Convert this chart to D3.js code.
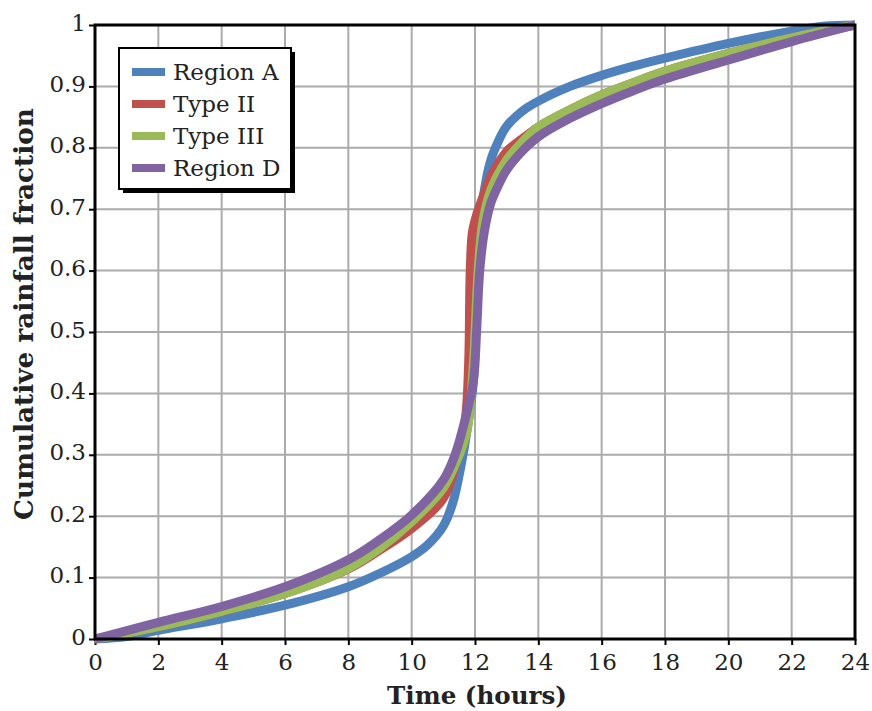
<!DOCTYPE html>
<html>
<head>
<meta charset="utf-8">
<script src="https://cdn.jsdelivr.net/npm/d3@7"></script>
<style>
  html, body { margin: 0; padding: 0; background: #ffffff; }
  svg { display: block; }
</style>
</head>
<body>
<svg id="chart" width="872" height="711"></svg>
<script>
// ---------- data ----------
const xTicks = [0, 2, 4, 6, 8, 10, 12, 14, 16, 18, 20, 22, 24];
const yTicks = [0, 0.1, 0.2, 0.3, 0.4, 0.5, 0.6, 0.7, 0.8, 0.9, 1];
const yTickLabels = ["0", "0.1", "0.2", "0.3", "0.4", "0.5", "0.6", "0.7", "0.8", "0.9", "1"];
const seriesNames = ["Region A", "Type II", "Type III", "Region D"];

const regionA = [
  [0, 0], [1, 0.004], [2, 0.014], [4, 0.033], [6, 0.055], [8, 0.085], [9, 0.107], [10, 0.134],
  [10.5, 0.153], [11, 0.184], [11.3, 0.222], [11.55, 0.28], [11.75, 0.34], [11.95, 0.42],
  [12.05, 0.56], [12.15, 0.66], [12.28, 0.726], [12.5, 0.78], [12.75, 0.812], [13, 0.835],
  [13.5, 0.86], [14, 0.876], [15, 0.9], [16, 0.918], [17, 0.933], [18, 0.946], [20, 0.97],
  [22, 0.99], [23, 0.998], [24, 1]
];
const typeII = [
  [0, 0], [2, 0.02], [4, 0.045], [6, 0.074], [8, 0.114], [9, 0.145], [10, 0.18],
  [11, 0.229], [11.46, 0.30], [11.7, 0.36], [11.8, 0.45], [11.85, 0.60], [11.92, 0.663],
  [12.07, 0.694], [12.25, 0.72], [12.5, 0.753], [13, 0.794], [13.5, 0.815], [14, 0.834],
  [15, 0.862], [16, 0.886], [17, 0.906], [18, 0.925], [20, 0.954], [22, 0.979], [24, 1]
];
const typeIII = [
  [0, 0], [2, 0.02], [4, 0.045], [6, 0.074], [8, 0.115], [9, 0.148], [10, 0.191],
  [11, 0.246], [11.5, 0.30], [11.75, 0.34], [11.95, 0.45], [12.0, 0.50], [12.1, 0.60],
  [12.25, 0.68], [12.5, 0.731], [13, 0.78], [13.5, 0.81], [14, 0.834], [15, 0.862],
  [16, 0.886], [17, 0.906], [18, 0.925], [20, 0.954], [22, 0.979], [24, 1]
];
const regionD = [
  [0, 0], [2, 0.027], [4, 0.053], [6, 0.085], [8, 0.129], [9, 0.162], [10, 0.202],
  [11, 0.259], [11.37, 0.30], [11.7, 0.36], [11.95, 0.42], [12.05, 0.50], [12.15, 0.60],
  [12.3, 0.665], [12.5, 0.71], [12.75, 0.74], [13, 0.764], [13.5, 0.795], [14, 0.818],
  [15, 0.848], [16, 0.872], [17, 0.893], [18, 0.912], [20, 0.943], [22, 0.973], [24, 1]
];
const seriesValues = [regionA, typeII, typeIII, regionD];
const seriesColors = ["#4F81BD", "#C0504D", "#9BBB59", "#8064A2"];

// ---------- layout ----------
const svg = d3.select("#chart");
const pLeft = 95, pRight = 855, pTop = 25, pBottom = 639;
const x = d3.scaleLinear().domain([0, 24]).range([pLeft, pRight]);
const y = d3.scaleLinear().domain([0, 1]).range([pBottom, pTop]);

const serif = "'DejaVu Serif', 'Liberation Serif', serif";

// grid
const grid = svg.append("g");
grid.selectAll("line.vx").data(xTicks).enter().append("line")
  .attr("x1", d => x(d)).attr("x2", d => x(d)).attr("y1", pTop).attr("y2", pBottom)
  .attr("stroke", "#ababab").attr("stroke-width", 2);
grid.selectAll("line.hy").data(yTicks).enter().append("line")
  .attr("y1", d => y(d)).attr("y2", d => y(d)).attr("x1", pLeft).attr("x2", pRight)
  .attr("stroke", "#ababab").attr("stroke-width", 2);

// axes (ticks + labels)
const xAxis = d3.axisBottom(x).tickValues(xTicks).tickSize(6).tickPadding(6).tickFormat(d3.format("d"));
const gx = svg.append("g").attr("transform", `translate(0,${pBottom})`).call(xAxis);
gx.select(".domain").remove();
gx.selectAll(".tick line").attr("stroke", "#000").attr("stroke-width", 2);
gx.selectAll(".tick text").attr("font-family", serif).attr("font-size", 23)
  .attr("fill", "#222").attr("dy", null).attr("y", 31);

const yAxis = d3.axisLeft(y).tickValues(yTicks).tickSize(6).tickPadding(6)
  .tickFormat((d, i) => yTickLabels[i]);
const gy = svg.append("g").attr("transform", `translate(${pLeft},0)`).call(yAxis);
gy.select(".domain").remove();
gy.selectAll(".tick line").attr("stroke", "#000").attr("stroke-width", 2);
gy.selectAll(".tick text").attr("font-family", serif).attr("font-size", 23)
  .attr("fill", "#222").attr("dy", null).attr("y", 5).attr("x", -9);

// lines
const line = d3.line().x(d => x(d[0])).y(d => y(d[1])).curve(d3.curveCatmullRom.alpha(0.5));
svg.append("g").selectAll("path").data(seriesValues).enter().append("path")
  .attr("d", line).attr("fill", "none")
  .attr("stroke", (d, i) => seriesColors[i]).attr("stroke-width", 9)
  .attr("stroke-linejoin", "round");

// frame
svg.append("rect").attr("x", pLeft).attr("y", pTop).attr("width", pRight - pLeft).attr("height", pBottom - pTop)
  .attr("fill", "none").attr("stroke", "#000").attr("stroke-width", 3);

// legend
const lg = svg.append("g");
const lx = 119, ly = 48, lw = 172, lh = 141;
lg.append("rect").attr("x", lx + 4).attr("y", ly + 4).attr("width", lw).attr("height", lh).attr("fill", "#000");
lg.append("rect").attr("x", lx).attr("y", ly).attr("width", lw).attr("height", lh)
  .attr("fill", "#fff").attr("stroke", "#000").attr("stroke-width", 2);
const rowY = d3.scaleLinear().domain([0, 3]).range([72, 168]);
seriesNames.forEach((name, i) => {
  lg.append("rect").attr("x", 132).attr("y", rowY(i) - 4).attr("width", 33).attr("height", 8)
    .attr("fill", seriesColors[i]);
  lg.append("text").attr("x", 173).attr("y", rowY(i) + 8)
    .attr("font-family", serif).attr("font-size", 23).attr("fill", "#222").text(name);
});

// axis titles
function fit(sel, target) {
  const w = sel.node().getComputedTextLength();
  const fs = parseFloat(sel.attr("font-size"));
  sel.attr("font-size", fs * target / w);
}
const xt = svg.append("text").attr("x", 477).attr("y", 704).attr("text-anchor", "middle")
  .attr("font-family", serif).attr("font-weight", "bold").attr("font-size", 24).attr("fill", "#222")
  .text("Time (hours)");
fit(xt, 180);
const yt = svg.append("text").attr("transform", "translate(33,314) rotate(-90)").attr("text-anchor", "middle")
  .attr("font-family", serif).attr("font-weight", "bold").attr("font-size", 24).attr("fill", "#222")
  .text("Cumulative rainfall fraction");
fit(yt, 412);
</script>
</body>
</html>
